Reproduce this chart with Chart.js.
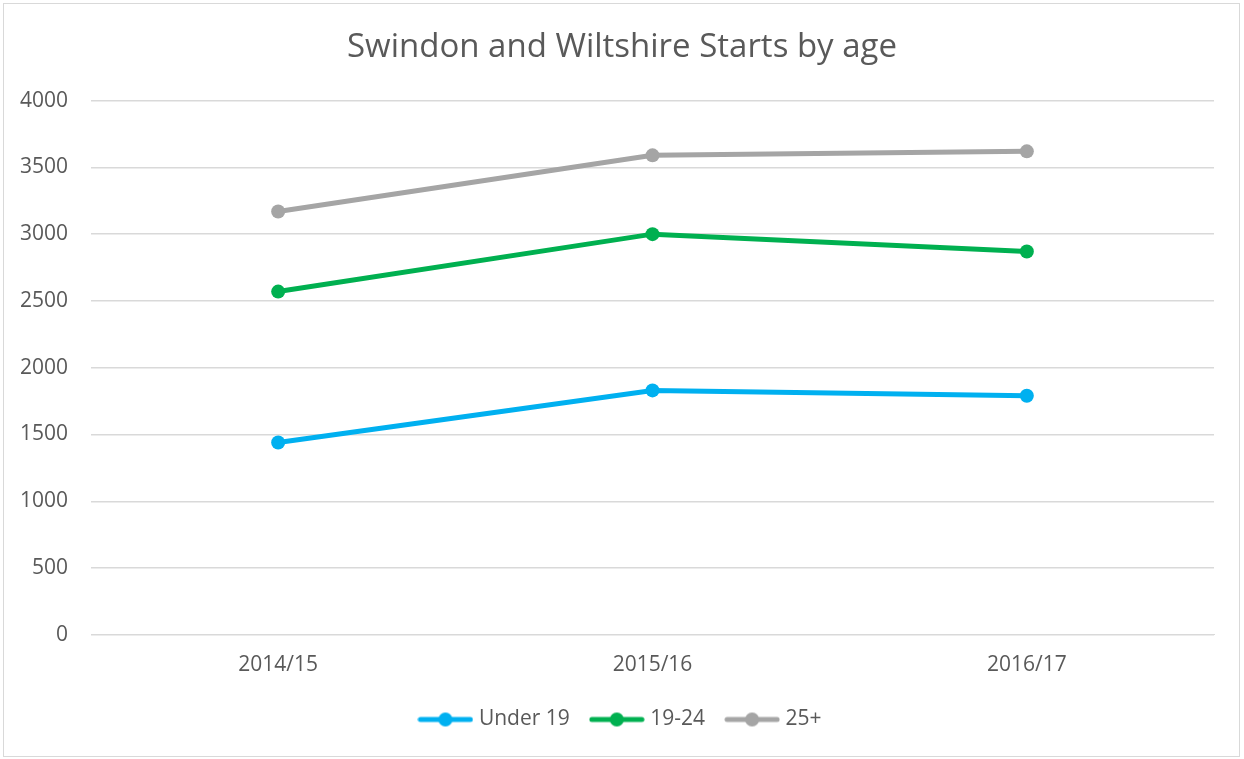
<!DOCTYPE html>
<html>
<head>
<meta charset="utf-8">
<script src="https://cdn.jsdelivr.net/npm/chart.js@4/dist/chart.umd.min.js"></script>
<style>
  body { margin: 0; background: #fff; }
  #frame { position: absolute; left: 3px; top: 3px; width: 1235px; height: 752px; border: 1px solid #d9d9d9; }
  #wrap { position: absolute; left: 0; top: 0; width: 1244px; height: 759px; }
</style>
</head>
<body>
<div id="frame"></div>
<div id="wrap"><canvas id="myChartLine" width="1244" height="759"></canvas></div>
<script>
// categories and series
var years = ['2014/15', '2015/16', '2016/17'];
var under19 = [1440, 1830, 1790];
var age19to24 = [2570, 3000, 2870];
var age25plus = [3170, 3590, 3620];

var textColor = '#595959';

// legend marker: short line with a dot in the middle
function legendMark(color)
{
	var c = document.createElement('canvas');
	c.width = 56;
	c.height = 16;
	var g = c.getContext('2d');
	g.strokeStyle = color;
	g.lineWidth = 5;
	g.lineCap = 'round';
	g.beginPath();
	g.moveTo(3, 8);
	g.lineTo(53, 8);
	g.stroke();
	g.fillStyle = color;
	g.beginPath();
	g.arc(28, 8, 7, 0, Math.PI * 2);
	g.fill();
	return c;
}

function serie(label, values, color)
{
	return {
		label: label,
		data: values,
		borderColor: color,
		backgroundColor: color,
		borderWidth: 5,
		pointRadius: 7,
		pointHoverRadius: 7,
		pointBackgroundColor: color,
		pointBorderWidth: 0,
		pointStyle: 'circle',
		tension: 0,
		legendMark: legendMark(color)
	};
}

// title and legend are centred on the whole frame, not on the plot
var centrer = {
	id: 'centrer',
	afterLayout: function (c) {
		[c.titleBlock, c.legend].forEach(function (b) {
			b.left += 15;
			b.right += 15;
		});
	}
};

Chart.defaults.font.family = '"Open Sans", sans-serif';
Chart.defaults.color = textColor;

var ctx = document.getElementById('myChartLine').getContext('2d');
var chart = new Chart(ctx, {
	type: 'line',
	data: {
		labels: years,
		datasets: [
			serie('Under 19', under19, '#00b0f0'),
			serie('19-24', age19to24, '#00b050'),
			serie('25+', age25plus, '#a5a5a5')
		]
	},
	plugins: [centrer],
	options: {
		responsive: false,
		animation: false,
		devicePixelRatio: 1,
		layout: { padding: { left: 0, right: 30, top: 0, bottom: 19 } },
		plugins: {
			title: {
				display: true,
				text: 'Swindon and Wiltshire Starts by age',
				color: textColor,
				font: { size: 33, weight: 'normal' },
				padding: { top: 28, bottom: 33 }
			},
			legend: {
				position: 'bottom',
				labels: {
					usePointStyle: true,
					pointStyleWidth: 46,
					boxHeight: 16,
					padding: 24,
					color: textColor,
					font: { size: 21 },
					generateLabels: function (chart) {
						var items = Chart.defaults.plugins.legend.labels.generateLabels(chart);
						items.forEach(function (it) {
							it.pointStyle = chart.data.datasets[it.datasetIndex].legendMark;
						});
						return items;
					}
				}
			},
			tooltip: { enabled: false }
		},
		scales: {
			x: {
				offset: true,
				afterFit: function (s) { s.height = s.height - 11; },
				grid: { display: false, drawTicks: false },
				border: { display: true, color: '#d9d9d9', width: 1 },
				ticks: { padding: 18, color: textColor, font: { size: 21 }, maxRotation: 0 }
			},
			y: {
				min: 0,
				max: 4000,
				afterFit: function (s) { s.width = 91; },
				grid: { color: '#d9d9d9', lineWidth: 1.5, drawTicks: false },
				border: { display: false },
				ticks: {
					stepSize: 500,
					padding: 23,
					color: textColor,
					font: { size: 21 },
					callback: function (v) { return String(v); }
				}
			}
		}
	}
});
</script>
</body>
</html>
